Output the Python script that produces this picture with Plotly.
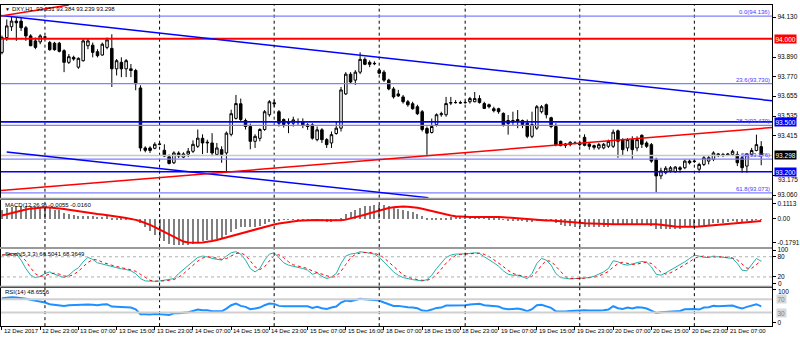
import plotly.graph_objects as go

# ---------------- data ----------------
bar_index = list(range(160))

open_ = [93.918, 94.007, 94.072, 94.106, 94.106, 94.066, 94.017, 93.987, 93.981, 94.011,
         93.977, 93.973, 93.973, 93.928, 93.858, 93.888, 93.829, 93.868, 93.958, 93.961,
         93.922, 93.902, 93.948, 93.942, 93.819, 93.858, 93.819, 93.819, 93.809, 93.704,
         93.343, 93.343, 93.341, 93.367, 93.329, 93.290, 93.254, 93.312, 93.288, 93.306,
         93.323, 93.353, 93.401, 93.373, 93.373, 93.304, 93.333, 93.313, 93.425, 93.521,
         93.609, 93.508, 93.472, 93.383, 93.401, 93.454, 93.543, 93.615, 93.561, 93.514,
         93.502, 93.492, 93.502, 93.502, 93.482, 93.482, 93.393, 93.452, 93.393, 93.373,
         93.430, 93.462, 93.668, 93.787, 93.751, 93.799, 93.876, 93.858, 93.852, 93.811,
         93.799, 93.751, 93.698, 93.668, 93.650, 93.621, 93.609, 93.591, 93.561, 93.460,
         93.436, 93.484, 93.543, 93.543, 93.616, 93.616, 93.616, 93.616, 93.621, 93.621,
         93.640, 93.610, 93.603, 93.579, 93.579, 93.551, 93.508, 93.498, 93.502, 93.508,
         93.492, 93.413, 93.462, 93.561, 93.603, 93.525, 93.472, 93.383, 93.367, 93.363,
         93.373, 93.373, 93.407, 93.367, 93.357, 93.343, 93.343, 93.353, 93.353, 93.446,
         93.393, 93.343, 93.393, 93.343, 93.419, 93.373, 93.363, 93.274, 93.175, 93.194,
         93.205, 93.200, 93.224, 93.224, 93.264, 93.264, 93.215, 93.244, 93.264, 93.274,
         93.307, 93.304, 93.307, 93.304, 93.304, 93.284, 93.234, 93.304, 93.328, 93.351]

high = [94.019, 94.116, 94.136, 94.126, 94.126, 94.077, 94.027, 94.007, 94.027, 94.017,
        93.987, 93.981, 93.981, 93.937, 93.908, 93.898, 93.888, 93.997, 94.001, 93.977,
        93.937, 93.977, 94.007, 94.027, 93.878, 93.888, 93.878, 93.848, 93.819, 93.720,
        93.353, 93.353, 93.377, 93.377, 93.365, 93.304, 93.323, 93.323, 93.317, 93.343,
        93.389, 93.454, 93.425, 93.393, 93.432, 93.373, 93.353, 93.442, 93.573, 93.662,
        93.640, 93.520, 93.490, 93.425, 93.462, 93.571, 93.631, 93.631, 93.571, 93.521,
        93.521, 93.531, 93.521, 93.521, 93.492, 93.492, 93.472, 93.462, 93.402, 93.442,
        93.502, 93.710, 93.799, 93.799, 93.811, 93.918, 93.888, 93.870, 93.864, 93.823,
        93.811, 93.759, 93.710, 93.692, 93.662, 93.632, 93.621, 93.603, 93.571, 93.472,
        93.520, 93.551, 93.561, 93.650, 93.650, 93.631, 93.627, 93.627, 93.650, 93.680,
        93.660, 93.621, 93.610, 93.591, 93.585, 93.557, 93.541, 93.561, 93.571, 93.514,
        93.514, 93.561, 93.601, 93.601, 93.610, 93.531, 93.492, 93.387, 93.373, 93.383,
        93.383, 93.383, 93.425, 93.373, 93.363, 93.373, 93.373, 93.393, 93.454, 93.454,
        93.402, 93.402, 93.413, 93.413, 93.425, 93.383, 93.373, 93.284, 93.224, 93.234,
        93.234, 93.234, 93.234, 93.274, 93.274, 93.274, 93.254, 93.294, 93.294, 93.323,
        93.313, 93.313, 93.313, 93.333, 93.323, 93.294, 93.312, 93.343, 93.423, 93.384]

low = [93.906, 93.987, 94.047, 93.987, 94.047, 93.987, 93.955, 93.937, 93.967, 94.001,
       93.928, 93.928, 93.918, 93.799, 93.848, 93.868, 93.819, 93.862, 93.937, 93.888,
       93.888, 93.898, 93.937, 93.710, 93.779, 93.769, 93.769, 93.769, 93.690, 93.323,
       93.317, 93.313, 93.335, 93.359, 93.288, 93.244, 93.246, 93.282, 93.282, 93.288,
       93.313, 93.343, 93.306, 93.313, 93.294, 93.300, 93.254, 93.194, 93.413, 93.514,
       93.502, 93.454, 93.335, 93.343, 93.383, 93.446, 93.531, 93.591, 93.472, 93.466,
       93.432, 93.472, 93.482, 93.462, 93.452, 93.393, 93.383, 93.373, 93.343, 93.343,
       93.423, 93.442, 93.662, 93.728, 93.722, 93.787, 93.841, 93.829, 93.841, 93.787,
       93.740, 93.690, 93.640, 93.650, 93.610, 93.591, 93.573, 93.541, 93.442, 93.294,
       93.430, 93.472, 93.531, 93.531, 93.601, 93.610, 93.609, 93.609, 93.610, 93.618,
       93.610, 93.577, 93.581, 93.557, 93.549, 93.472, 93.423, 93.482, 93.462, 93.462,
       93.402, 93.402, 93.452, 93.551, 93.521, 93.462, 93.353, 93.353, 93.343, 93.353,
       93.365, 93.353, 93.353, 93.333, 93.333, 93.333, 93.335, 93.343, 93.343, 93.284,
       93.294, 93.323, 93.274, 93.323, 93.343, 93.343, 93.254, 93.076, 93.155, 93.185,
       93.194, 93.194, 93.194, 93.215, 93.244, 93.252, 93.194, 93.234, 93.244, 93.264,
       93.288, 93.288, 93.294, 93.294, 93.234, 93.194, 93.194, 93.294, 93.323, 93.239]

close = [94.007, 94.077, 94.106, 94.096, 94.066, 94.017, 93.958, 93.948, 94.017, 94.009,
         93.934, 93.934, 93.924, 93.858, 93.892, 93.878, 93.882, 93.987, 93.987, 93.918,
         93.898, 93.967, 93.993, 93.819, 93.868, 93.819, 93.868, 93.809, 93.729, 93.343,
         93.329, 93.328, 93.365, 93.365, 93.294, 93.250, 93.313, 93.294, 93.307, 93.323,
         93.365, 93.402, 93.373, 93.377, 93.313, 93.343, 93.304, 93.432, 93.549, 93.610,
         93.514, 93.472, 93.383, 93.413, 93.454, 93.561, 93.621, 93.609, 93.492, 93.484,
         93.492, 93.512, 93.500, 93.482, 93.472, 93.402, 93.452, 93.393, 93.363, 93.423,
         93.462, 93.692, 93.787, 93.740, 93.799, 93.876, 93.846, 93.846, 93.850, 93.793,
         93.751, 93.698, 93.650, 93.656, 93.621, 93.603, 93.579, 93.549, 93.454, 93.432,
         93.472, 93.543, 93.549, 93.610, 93.614, 93.616, 93.614, 93.616, 93.640, 93.640,
         93.616, 93.581, 93.591, 93.567, 93.561, 93.482, 93.490, 93.508, 93.514, 93.484,
         93.413, 93.484, 93.591, 93.591, 93.543, 93.472, 93.363, 93.357, 93.359, 93.377,
         93.371, 93.363, 93.359, 93.353, 93.347, 93.363, 93.365, 93.383, 93.438, 93.383,
         93.333, 93.393, 93.333, 93.393, 93.365, 93.353, 93.264, 93.175, 93.205, 93.221,
         93.224, 93.228, 93.215, 93.264, 93.254, 93.262, 93.244, 93.284, 93.284, 93.313,
         93.298, 93.298, 93.298, 93.323, 93.254, 93.224, 93.306, 93.328, 93.363, 93.298]

macd_main = [0.070, 0.080, 0.090, 0.095, 0.098, 0.097, 0.095, 0.090, 0.088, 0.086,
             0.080, 0.072, 0.065, 0.045, 0.035, 0.028, 0.022, 0.025, 0.025, 0.020,
             0.017, 0.018, 0.020, 0.012, 0.010, 0.008, 0.007, 0.004, -0.004, -0.030,
             -0.060, -0.090, -0.115, -0.140, -0.165, -0.185, -0.192, -0.196, -0.195, -0.190,
             -0.182, -0.170, -0.162, -0.155, -0.152, -0.145, -0.140, -0.120, -0.095, -0.072,
             -0.060, -0.055, -0.058, -0.055, -0.048, -0.035, -0.020, -0.010, -0.008, -0.006,
             -0.006, -0.004, -0.002, -0.002, -0.003, -0.010, -0.010, -0.015, -0.020, -0.018,
             -0.012, 0.010, 0.035, 0.050, 0.065, 0.085, 0.095, 0.100, 0.104, 0.105,
             0.102, 0.095, 0.085, 0.077, 0.068, 0.058, 0.050, 0.040, 0.025, 0.012,
             0.008, 0.008, 0.008, 0.012, 0.014, 0.016, 0.017, 0.018, 0.020, 0.021,
             0.020, 0.016, 0.013, 0.008, 0.004, -0.005, -0.010, -0.012, -0.013, -0.016,
             -0.024, -0.024, -0.016, -0.010, -0.010, -0.014, -0.030, -0.040, -0.048, -0.052,
             -0.055, -0.058, -0.058, -0.060, -0.062, -0.060, -0.058, -0.055, -0.045, -0.045,
             -0.047, -0.043, -0.045, -0.040, -0.040, -0.040, -0.050, -0.070, -0.075, -0.075,
             -0.074, -0.072, -0.070, -0.062, -0.058, -0.054, -0.052, -0.045, -0.040, -0.032,
             -0.028, -0.025, -0.022, -0.016, -0.018, -0.022, -0.015, -0.010, -0.002, -0.0055]

macd_signal = [0.025, 0.035, 0.045, 0.055, 0.063, 0.070, 0.076, 0.081, 0.084, 0.086,
               0.085, 0.082, 0.078, 0.073, 0.067, 0.061, 0.055, 0.050, 0.046, 0.042,
               0.036, 0.032, 0.028, 0.023, 0.018, 0.012, 0.006, 0.000, -0.008, -0.018,
               -0.030, -0.045, -0.062, -0.080, -0.100, -0.120, -0.140, -0.158, -0.170, -0.176,
               -0.178, -0.178, -0.176, -0.172, -0.166, -0.158, -0.148, -0.138, -0.128, -0.118,
               -0.108, -0.098, -0.088, -0.078, -0.068, -0.058, -0.050, -0.042, -0.035, -0.029,
               -0.024, -0.019, -0.015, -0.012, -0.010, -0.009, -0.009, -0.010, -0.011, -0.012,
               -0.012, -0.010, -0.006, 0.002, 0.010, 0.020, 0.030, 0.041, 0.052, 0.063,
               0.072, 0.080, 0.086, 0.090, 0.091, 0.090, 0.087, 0.082, 0.075, 0.066,
               0.057, 0.048, 0.040, 0.032, 0.025, 0.020, 0.017, 0.015, 0.014, 0.014,
               0.015, 0.015, 0.016, 0.015, 0.014, 0.012, 0.009, 0.006, 0.003, 0.000,
               -0.004, -0.007, -0.009, -0.011, -0.012, -0.013, -0.015, -0.018, -0.021, -0.024,
               -0.027, -0.030, -0.033, -0.035, -0.037, -0.038, -0.039, -0.040, -0.040, -0.040,
               -0.040, -0.040, -0.039, -0.038, -0.038, -0.037, -0.038, -0.041, -0.045, -0.050,
               -0.054, -0.057, -0.059, -0.060, -0.060, -0.059, -0.057, -0.054, -0.051, -0.047,
               -0.044, -0.041, -0.038, -0.035, -0.031, -0.028, -0.025, -0.022, -0.019, -0.016]

stoch_main = [85, 88, 90, 88, 70, 45, 25, 18, 22, 30,
              35, 28, 22, 18, 25, 38, 47, 65, 78, 72,
              62, 58, 56, 50, 47, 44, 42, 38, 30, 15,
              8, 7, 7, 8, 10, 12, 15, 30, 42, 55,
              68, 78, 82, 80, 75, 72, 70, 82, 92, 95,
              88, 70, 45, 35, 45, 70, 88, 92, 78, 62,
              55, 52, 50, 45, 40, 28, 32, 22, 15, 20,
              30, 60, 82, 88, 90, 95, 93, 90, 88, 78,
              65, 50, 35, 25, 18, 14, 12, 10, 8, 12,
              25, 45, 60, 78, 85, 88, 88, 88, 90, 92,
              90, 80, 72, 62, 52, 38, 28, 25, 25, 20,
              15, 30, 60, 75, 70, 55, 30, 18, 15, 14,
              15, 16, 18, 18, 22, 28, 35, 45, 68, 65,
              58, 55, 58, 62, 66, 64, 50, 28, 25, 32,
              40, 47, 55, 65, 75, 85, 82, 78, 78, 82,
              80, 78, 76, 75, 60, 40, 38, 58, 75, 66.5041]

stoch_signal = [85, 86.5, 87.7, 88.7, 82.7, 67.7, 46.7, 29.3, 21.7, 23.3,
                29, 31, 28.3, 22.7, 21.7, 27, 36.7, 50, 63.3, 71.7,
                70.7, 64, 58.7, 54.7, 51, 47, 44.3, 41.3, 36.7, 27.7,
                17.7, 10, 7.3, 7.3, 8.3, 10, 12.3, 19, 29, 42.3,
                55, 67, 76, 80, 79, 75.7, 72.3, 74.7, 81.3, 89.7,
                91.7, 84.3, 67.7, 50, 41.7, 50, 67.7, 83.3, 86, 77.3,
                65, 56.3, 52.3, 49, 45, 37.7, 33.3, 27.3, 23, 19,
                21.7, 36.7, 57.3, 76.7, 86.7, 91, 92.7, 92.7, 90.3, 85.3,
                77, 64.3, 50, 36.7, 26, 19, 14.7, 12, 10, 10,
                15, 27.3, 43.3, 61, 74.3, 83.7, 87, 88, 88.7, 90,
                90.7, 87.3, 80.7, 71.3, 62, 50.7, 39.3, 30.3, 26, 23.3,
                20, 21.7, 35, 55, 68.3, 66.7, 51.7, 34.3, 21, 15.7,
                14.7, 15, 16.3, 17.3, 19.3, 22.7, 28.3, 36, 49.3, 59.3,
                63.7, 59.3, 57, 58.3, 62, 64, 60, 47.3, 34.3, 28.3,
                32.3, 39.7, 47.3, 55.7, 65, 75, 80.7, 81.7, 79.3, 79.3,
                80, 80, 78, 76.3, 70.3, 58.3, 46, 45.3, 57, 68.3649]

rsi = [73, 75, 76, 75, 74, 71, 68, 66, 64, 60,
       55, 53, 51, 50, 52, 53, 54, 55, 54, 53,
       52, 54, 55, 48, 47, 47, 46, 45, 40, 25,
       25, 24, 26, 26, 24, 23, 28, 28, 29, 31,
       35, 39, 37, 37, 34, 35, 34, 42, 52, 57,
       50, 47, 40, 42, 45, 52, 57, 56, 50, 49,
       49, 51, 51, 50, 49, 44, 47, 43, 41, 45,
       48, 60, 66, 64, 67, 71, 70, 69, 69, 66,
       60, 54, 50, 50, 47, 46, 45, 43, 36, 35,
       39, 44, 45, 51, 51, 51, 52, 52, 54, 55,
       56, 52, 51, 49, 48, 42, 40, 41, 42, 39,
       34, 40, 52, 53, 49, 44, 34, 33, 33, 35,
       36, 36, 37, 36, 35, 36, 37, 39, 49, 43,
       41, 45, 42, 46, 45, 42, 36, 29, 31, 32,
       33, 34, 35, 40, 41, 41, 39, 45, 46, 50,
       49, 49, 49, 51, 46, 42, 47, 52, 55, 48.6556]

# time axis labels (every 8 bars) and day separators
label_bars = [0, 8, 16, 24, 32, 40, 48, 56, 64, 72, 80, 88, 96, 104, 112, 120, 128, 136, 144, 152]
label_text = ["12 Dec 2017", "12 Dec 23:00", "13 Dec 07:00", "13 Dec 15:00", "13 Dec 23:00",
              "14 Dec 07:00", "14 Dec 15:00", "14 Dec 23:00", "15 Dec 07:00", "15 Dec 16:00",
              "18 Dec 07:00", "18 Dec 15:00", "18 Dec 23:00", "19 Dec 07:00", "19 Dec 15:00",
              "19 Dec 23:00", "20 Dec 07:00", "20 Dec 15:00", "20 Dec 23:00", "21 Dec 07:00"]
day_start_bars = [9, 33, 57, 79, 97, 121, 145]

# chart objects on the price window
fib_levels = [94.136, 93.730, 93.479, 93.276, 93.073]
fib_names = ["0.0(94.136)", "23.6(93.730)", "38.2(93.479)", "50(93.276)", "61.8(93.073)"]
red_level = 94.000
blue_levels = [93.500, 93.200]
bid_price = 93.298
# trend lines: (bar0, price0, bar1, price1)
blue_trends = [(-0.21, 94.139, 161.28, 93.627), (0.98, 93.319, 89.3, 93.044)]
red_trends = [(-0.21, 93.087, 161.28, 93.466), (-0.21, 94.137, 14.0, 94.203)]

price_ticks = [94.130, 93.890, 93.770, 93.655, 93.535, 93.415, 93.175, 93.060]
macd_ticks = [0.1113, 0.0, -0.1791]
macd_tick_text = ["0.1113", "0.00", "-0.1791"]

# ---------------- layout geometry ----------------
W, H = 800, 339
FONT = "Liberation Sans"
X_RANGE = [-0.209, 161.28]
XDOM = [1 / W, 775 / W]


def dom(top_px, bot_px):
    return [1 - bot_px / H, 1 - top_px / H]


panels = {
    "y": dict(dom=dom(2, 197), rng=[93.044, 94.203]),
    "y2": dict(dom=dom(199, 247), rng=[-0.211, 0.143]),
    "y3": dict(dom=dom(249, 286), rng=[-5.9, 102.9]),
    "y4": dict(dom=dom(288, 327), rng=[-10.3, 104.4]),
}

fig = go.Figure()

fig.add_trace(go.Candlestick(
    x=bar_index, open=open_, high=high, low=low, close=close,
    increasing=dict(line=dict(color="black", width=1), fillcolor="white"),
    decreasing=dict(line=dict(color="black", width=1), fillcolor="black"),
    whiskerwidth=0, xaxis="x", yaxis="y", showlegend=False, hoverinfo="skip"))

fig.add_trace(go.Bar(x=bar_index, y=macd_main, width=0.22, marker=dict(color="#808080", line=dict(width=0)),
                     xaxis="x2", yaxis="y2", showlegend=False, hoverinfo="skip"))
fig.add_trace(go.Scatter(x=bar_index, y=macd_signal, mode="lines", line=dict(color="#ff0000", width=2),
                         xaxis="x2", yaxis="y2", showlegend=False, hoverinfo="skip"))

fig.add_trace(go.Scatter(x=bar_index, y=stoch_main, mode="lines", line=dict(color="#20B2AA", width=1),
                         xaxis="x3", yaxis="y3", showlegend=False, hoverinfo="skip"))
fig.add_trace(go.Scatter(x=bar_index, y=stoch_signal, mode="lines",
                         line=dict(color="#ff0000", width=1, dash="dot"),
                         xaxis="x3", yaxis="y3", showlegend=False, hoverinfo="skip"))

fig.add_trace(go.Scatter(x=bar_index, y=rsi, mode="lines", line=dict(color="#1E90FF", width=2),
                         xaxis="x4", yaxis="y4", showlegend=False, hoverinfo="skip"))

axis_common = dict(showgrid=False, zeroline=False, showline=True, mirror=True,
                   linecolor="black", linewidth=1)

layout = dict(
    width=W, height=H, autosize=False,
    margin=dict(l=0, r=0, t=0, b=0),
    paper_bgcolor="white", plot_bgcolor="white",
    font=dict(family=FONT, size=6, color="black"),
    showlegend=False, bargap=0, boxgap=0.25,
)

for key in ["x", "x2", "x3", "x4"]:
    name = "xaxis" if key == "x" else "xaxis" + key[1:]
    yk = "y" if key == "x" else "y" + key[1:]
    ax = dict(axis_common, domain=XDOM, range=X_RANGE, anchor=yk,
              showticklabels=False, ticks="", rangeslider=dict(visible=False))
    if key != "x":
        ax["matches"] = "x"
    if key == "x4":
        ax.update(ticks="outside", tickvals=label_bars, ticklen=3, tickcolor="black", tickwidth=1)
    layout[name] = ax

tick_font = dict(family=FONT, size=6.5, color="black")
# labels that sit next to a price box or a neighbouring window are placed as notes
price_tick_text = ["" if v == 93.175 else f"{v:.3f}" for v in price_ticks]
layout["yaxis"] = dict(axis_common, domain=panels["y"]["dom"], range=panels["y"]["rng"], side="right",
                       anchor="x", tickvals=price_ticks, ticktext=price_tick_text,
                       ticks="outside", ticklen=3, tickcolor="black", tickfont=tick_font)
layout["yaxis2"] = dict(axis_common, domain=panels["y2"]["dom"], range=panels["y2"]["rng"], side="right",
                        anchor="x2", tickvals=macd_ticks, ticktext=macd_tick_text,
                        ticks="outside", ticklen=3, tickcolor="black", tickfont=tick_font)
layout["yaxis3"] = dict(axis_common, domain=panels["y3"]["dom"], range=panels["y3"]["rng"], side="right",
                        anchor="x3", tickvals=[100, 80, 20, 0], ticktext=["100", "80", "20", ""],
                        ticks="outside", ticklen=3, tickcolor="black", tickfont=tick_font)
layout["yaxis4"] = dict(axis_common, domain=panels["y4"]["dom"], range=panels["y4"]["rng"], side="right",
                        anchor="x4", tickvals=[100, 0], ticktext=["", "0"],
                        ticks="outside", ticklen=3, tickcolor="black", tickfont=tick_font)
fig.update_layout(**layout)

shapes = []
# gray separators between windows
for top_px, bot_px in [(197, 199), (247, 249), (286, 288)]:
    shapes.append(dict(type="rect", xref="paper", yref="paper", x0=0, x1=775 / W,
                       y0=1 - bot_px / H, y1=1 - top_px / H, fillcolor="#9a9a9a", line=dict(width=0)))

# day separators in every window
for yk in ["y", "y2", "y3", "y4"]:
    xk = "x" if yk == "y" else "x" + yk[1:]
    for b in day_start_bars:
        shapes.append(dict(type="line", xref=xk, yref=f"{yk} domain", x0=b, x1=b, y0=0, y1=1,
                           line=dict(color="black", width=1, dash="dot")))

# indicator levels
for lv in [20, 80]:
    shapes.append(dict(type="line", xref="x3 domain", yref="y3", x0=0, x1=1, y0=lv, y1=lv,
                       line=dict(color="#b0b0b0", width=1, dash="dot")))
for lv in [30, 70]:
    shapes.append(dict(type="line", xref="x4 domain", yref="y4", x0=0, x1=1, y0=lv, y1=lv,
                       line=dict(color="#d0d0d0", width=2)))

# bid line
shapes.append(dict(type="line", xref="x domain", yref="y", x0=0, x1=1, y0=bid_price, y1=bid_price,
                   line=dict(color="#c8c8c8", width=1.5)))
# fibonacci levels
for lv in fib_levels:
    shapes.append(dict(type="line", xref="x domain", yref="y", x0=0, x1=1, y0=lv, y1=lv,
                       line=dict(color="#8080ff", width=1.3)))
# horizontal levels
shapes.append(dict(type="line", xref="x domain", yref="y", x0=0, x1=1, y0=red_level, y1=red_level,
                   line=dict(color="#ff0000", width=1.8)))
for lv in blue_levels:
    shapes.append(dict(type="line", xref="x domain", yref="y", x0=0, x1=1, y0=lv, y1=lv,
                       line=dict(color="#0000ff", width=1.6)))
# trend lines
for b0, p0, b1, p1 in blue_trends:
    shapes.append(dict(type="line", xref="x", yref="y", x0=b0, y0=p0, x1=b1, y1=p1,
                       line=dict(color="#0000ff", width=1.5)))
for b0, p0, b1, p1 in red_trends:
    shapes.append(dict(type="line", xref="x", yref="y", x0=b0, y0=p0, x1=b1, y1=p1,
                       line=dict(color="#ff0000", width=1.5)))

fig.update_layout(shapes=shapes)

ann = []
# window captions
ann.append(dict(text="▼", xref="paper", yref="paper", x=3 / W, y=1 - 6 / H, xanchor="left",
                yanchor="middle", showarrow=False, font=dict(size=5, color="black")))
ann.append(dict(text="DXY,H1  93.351 93.384 93.239 93.298", xref="paper", yref="paper", x=10 / W,
                y=1 - 6 / H, xanchor="left", yanchor="middle", showarrow=False, font=dict(size=6)))
ann.append(dict(text="MACD(12,26,9) -0.0055 -0.0160", xref="paper", yref="paper", x=3 / W,
                y=1 - 204 / H, xanchor="left", yanchor="middle", showarrow=False, font=dict(size=6)))
ann.append(dict(text="Stoch(5,3,3) 66.5041 68.3649", xref="paper", yref="paper", x=3 / W,
                y=1 - 254 / H, xanchor="left", yanchor="middle", showarrow=False, font=dict(size=6)))
ann.append(dict(text="RSI(14) 48.6556", xref="paper", yref="paper", x=3 / W,
                y=1 - 292 / H, xanchor="left", yanchor="middle", showarrow=False, font=dict(size=6)))

# fibonacci labels
for lv, name in zip(fib_levels, fib_names):
    ann.append(dict(text=name, xref="paper", yref="y", x=774 / W, y=lv, xanchor="right",
                    yanchor="bottom", showarrow=False, font=dict(size=6, color="#3c3cff"),
                    borderpad=0))

# price boxes on the right scale
for lv, bg in [(red_level, "#ff0000"), (blue_levels[0], "#0000ff"), (bid_price, "#000000"),
               (blue_levels[1], "#0000ff")]:
    ann.append(dict(text=f"{lv:.3f}", xref="paper", yref="y", x=777 / W, y=lv, xanchor="left",
                    yanchor="middle", showarrow=False, bgcolor=bg, borderpad=0.5,
                    font=dict(size=6.5, color="white")))
for lv in [70, 30]:
    ann.append(dict(text=str(lv), xref="paper", yref="y4", x=779 / W, y=lv, xanchor="left",
                    yanchor="middle", showarrow=False, bgcolor="#d8d8d8", borderpad=0.5,
                    font=dict(size=6.5, color="#808080")))
# edge labels of the right scale
ann.append(dict(text="93.175", xref="paper", yref="paper", x=779 / W, y=1 - 179 / H, xanchor="left",
                yanchor="middle", showarrow=False, font=tick_font))
ann.append(dict(text="0", xref="paper", yref="paper", x=779 / W, y=1 - 284 / H, xanchor="left",
                yanchor="middle", showarrow=False, font=tick_font))
ann.append(dict(text="100", xref="paper", yref="paper", x=779 / W, y=1 - 292 / H, xanchor="left",
                yanchor="middle", showarrow=False, font=tick_font))

# time labels
for b, t in zip(label_bars, label_text):
    ann.append(dict(text=t, xref="x4", yref="paper", x=b, y=1 - 332 / H, xanchor="left",
                    yanchor="middle", showarrow=False, font=dict(size=6)))

fig.update_layout(annotations=ann)

fig.write_html("out.html")
